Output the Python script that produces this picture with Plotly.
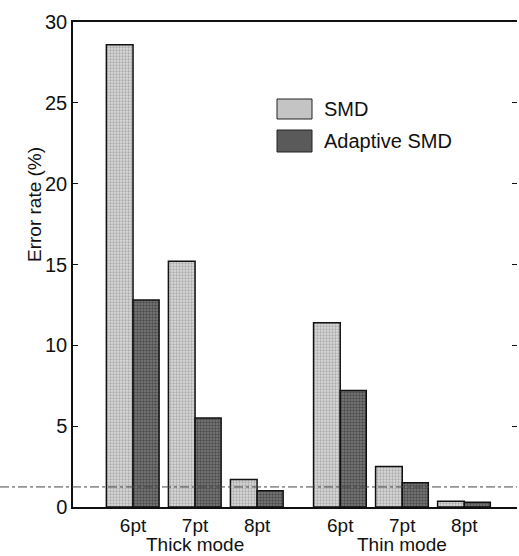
import plotly.graph_objects as go

# ---- data ----
sizes = ["6pt", "7pt", "8pt"]
modes = ["Thick mode", "Thin mode"]
series_names = ["SMD", "Adaptive SMD"]
smd_thick = [28.6, 15.2, 1.7]
smd_thin = [11.4, 2.5, 0.35]
adaptive_thick = [12.8, 5.5, 1.0]
adaptive_thin = [7.2, 1.5, 0.3]
y_ticks = [0, 5, 10, 15, 20, 25, 30]
threshold = 1.24

# ---- layout helpers ----
group_gap = 0.34
xpos = [i for i in range(3)] + [i + 3 + group_gap for i in range(3)]
smd_vals = smd_thick + smd_thin
ada_vals = adaptive_thick + adaptive_thin
tick_text = sizes + sizes

FONT = "Liberation Sans, Arial, Helvetica, sans-serif"
INK = "#111111"

fig = go.Figure()
fig.add_trace(go.Bar(
    x=xpos, y=smd_vals, name=series_names[0],
    offset=-0.43, width=0.43,
    marker=dict(color="#c4c4c4",
                line=dict(color=INK, width=1.5),
                pattern=dict(shape=".", fgcolor="#7a7a7a", bgcolor="#dadada",
                             size=3, solidity=0.45)),
    showlegend=False,
))
fig.add_trace(go.Bar(
    x=xpos, y=ada_vals, name=series_names[1],
    offset=0.0, width=0.42,
    marker=dict(color="#555555",
                line=dict(color=INK, width=1.5),
                pattern=dict(shape=".", fgcolor="#1c1c1c", bgcolor="#7c7c7c",
                             size=3, solidity=0.5)),
    showlegend=False,
))
# invisible trace to host the mirrored right-hand ticks
fig.add_trace(go.Scatter(x=[xpos[0]], y=[0], yaxis="y2", mode="markers",
                         marker=dict(opacity=0), showlegend=False, hoverinfo="skip"))

W, H = 519, 556
L, R, T, B = 73, 2, 22, 49
pw, ph = W - L - R, H - T - B

def px2paper_x(px):
    return (px - L) / pw

def px2paper_y(py):
    return (H - B - py) / ph

fig.update_layout(
    width=W, height=H,
    margin=dict(l=L, r=R, t=T, b=B),
    paper_bgcolor="white", plot_bgcolor="white",
    font=dict(family=FONT, color=INK, size=19),
    barmode="overlay",
    xaxis=dict(range=[-0.968, 6.19], tickvals=xpos, ticktext=tick_text,
               showline=True, linecolor=INK, linewidth=1.5, mirror=True,
               ticks="", showgrid=False, zeroline=False,
               tickfont=dict(size=19, color=INK), ticklabelstandoff=0),
    yaxis=dict(range=[0, 30], tickvals=y_ticks, showline=True, linecolor=INK,
               linewidth=1.5, ticks="inside", ticklen=5, tickcolor=INK,
               showgrid=False, zeroline=False, tickfont=dict(size=20, color=INK)),
    yaxis2=dict(range=[0, 30], tickvals=y_ticks, overlaying="y", side="right",
                showline=False, ticks="inside", ticklen=5, tickcolor=INK,
                showticklabels=False, showgrid=False, zeroline=False),
)

# dash-dot reference line
fig.add_shape(type="line", xref="paper", yref="y", x0=-L / pw, x1=1,
              y0=threshold, y1=threshold,
              line=dict(color="#444444", width=1, dash="dashdot"))

# mode labels
for mode, xc in zip(modes, [1, 4 + group_gap]):
    fig.add_annotation(x=xc, y=px2paper_y(556), xref="x", yref="paper", text=mode,
                       showarrow=False, font=dict(size=19, color=INK),
                       yanchor="bottom", borderpad=0)

# y title
fig.add_annotation(x=px2paper_x(34), y=px2paper_y(205), xref="paper", yref="paper",
                   text="Error rate (%)", textangle=-90, showarrow=False,
                   font=dict(size=19, color=INK), xanchor="center", yanchor="middle")

# manual legend
legend_fill = ["#c4c4c4", "#5a5a5a"]
legend_rows = [(99, 119, 109), (130, 152, 141)]
for name, fill, (ya, yb, yc) in zip(series_names, legend_fill, legend_rows):
    fig.add_shape(type="rect", xref="paper", yref="paper",
                  x0=px2paper_x(277), x1=px2paper_x(312),
                  y0=px2paper_y(yb), y1=px2paper_y(ya),
                  fillcolor=fill, line=dict(color="#222222", width=1))
    fig.add_annotation(x=px2paper_x(322), y=px2paper_y(yc), xref="paper", yref="paper",
                       text=name, showarrow=False, xanchor="left", yanchor="middle",
                       font=dict(size=20, color=INK))

fig.write_html("out.html")
